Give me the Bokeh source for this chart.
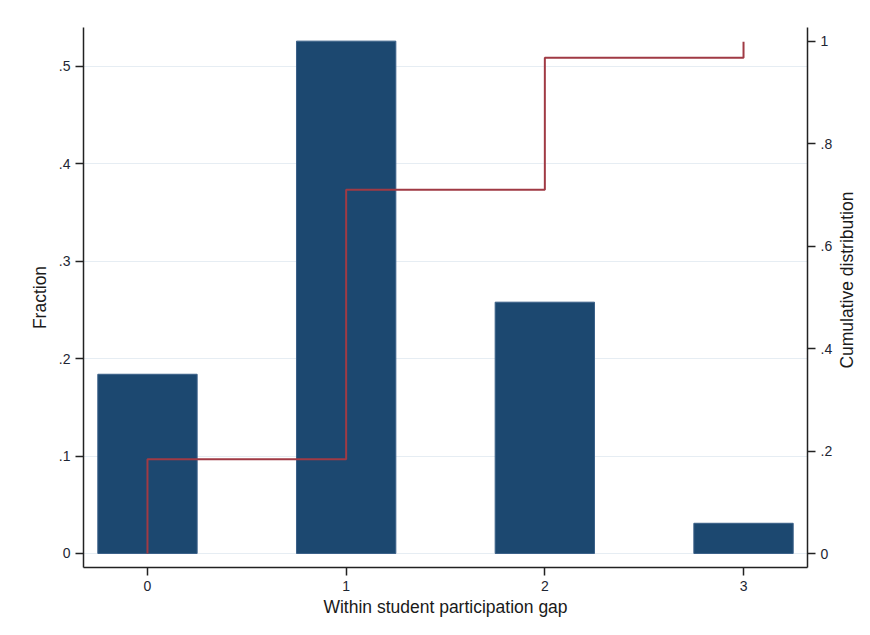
import numpy as np
from bokeh.plotting import figure
from bokeh.layouts import row
from bokeh.models import Range1d, LinearAxis, FixedTicker
from bokeh.core.properties import value
from bokeh.embed import file_html
from bokeh.resources import INLINE

# data
gaps = [0, 1, 2, 3]
fractions = [0.184, 0.526, 0.258, 0.031]
left_ticks = [0, 0.1, 0.2, 0.3, 0.4, 0.5]
left_labels = ["0", ".1", ".2", ".3", ".4", ".5"]
right_ticks = [0, 0.2, 0.4, 0.6, 0.8, 1.0]
right_labels = ["0", ".2", ".4", ".6", ".8", "1"]
x_ticks = [0, 1, 2, 3]
x_labels = ["0", "1", "2", "3"]
right_title = "Cumulative distribution"

FONT = "Liberation Sans"
TXT = "#1e2633"
BAR = "#1c4870"
LINE = "#a03a44"

W_MAIN = 835
p = figure(width=W_MAIN, height=635, output_backend="svg", toolbar_location=None,
           x_range=Range1d(-0.322, 3.322), y_range=Range1d(-0.0144, 0.540),
           min_border_left=83, min_border_right=W_MAIN - 807, min_border_top=27,
           min_border_bottom=68)
p.outline_line_color = None
p.background_fill_color = "white"
p.border_fill_color = "white"

p.extra_y_ranges = {"cum": Range1d(-0.0273, 1.027)}

# bars
p.vbar(x=gaps, top=fractions, bottom=0, width=0.5, fill_color=BAR,
       line_color="#3a6088", line_width=1)

# cumulative step line
cum = np.cumsum(fractions)
xs, ys = [], []
prev = 0.0
for g, c in zip(gaps, cum):
    xs += [g, g]
    ys += [prev, c]
    if g != gaps[-1]:
        xs.append(g + 1)
        ys.append(c)
    prev = c
p.line(xs, ys, line_color=LINE, line_width=2, y_range_name="cum")

# grid
p.xgrid.visible = False
p.ygrid.ticker = FixedTicker(ticks=left_ticks)
p.ygrid.grid_line_color = "#e6edf3"
p.ygrid.grid_line_width = 1

def style_axis(ax, ticks, labels, title):
    ax.ticker = FixedTicker(ticks=ticks)
    ax.major_label_overrides = {t: l for t, l in zip(ticks, labels)}
    ax.minor_tick_line_color = None
    ax.major_tick_out = 8
    ax.major_tick_in = 0
    ax.major_tick_line_color = "#222222"
    ax.major_tick_line_width = 1.5
    ax.axis_line_color = "#222222"
    ax.axis_line_width = 1.5
    ax.major_label_text_font = FONT
    ax.major_label_text_font_size = "14px"
    ax.major_label_text_color = TXT
    ax.major_label_standoff = 5
    ax.axis_label = title
    ax.axis_label_text_font = FONT
    ax.axis_label_text_font_size = "17.5px"
    ax.axis_label_text_font_style = "normal"
    ax.axis_label_text_color = "#1a1a1a"

style_axis(p.xaxis[0], x_ticks, x_labels, "Within student participation gap")
p.xaxis[0].axis_label_standoff = 3
style_axis(p.yaxis[0], left_ticks, left_labels, "Fraction")
p.yaxis[0].major_label_orientation = "horizontal"
p.yaxis[0].axis_label_standoff = 6

rax = LinearAxis(y_range_name="cum")
style_axis(rax, right_ticks, right_labels, None)
rax.major_label_orientation = "horizontal"
p.add_layout(rax, "right")

# narrow strip holding the right axis title (reads bottom-to-top, centred on the frame)
W_SIDE = 870 - W_MAIN
p2 = figure(width=W_SIDE, height=635, output_backend="svg", toolbar_location=None,
            x_range=Range1d(0, W_SIDE), y_range=Range1d(0, 635),
            x_axis_type=None, y_axis_type=None, min_border=0)
p2.outline_line_color = None
p2.background_fill_color = "white"
p2.border_fill_color = "white"
p2.text(x=[846 - W_MAIN], y=[635 - 297], text=[right_title], angle=np.pi / 2,
        text_align="center", text_baseline="middle", text_font=value(FONT),
        text_font_size="17.5px", text_color="#1a1a1a")

layout = row(p, p2, spacing=0)
open("out.html", "w").write(file_html(layout, INLINE))
